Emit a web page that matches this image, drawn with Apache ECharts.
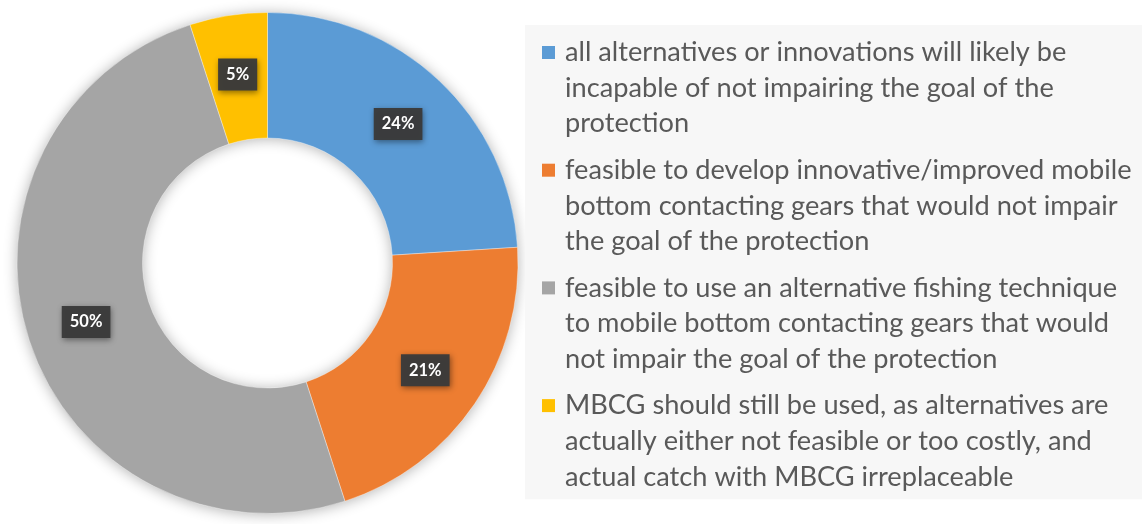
<!DOCTYPE html>
<html>
<head>
<meta charset="utf-8">
<title>Views on mobile bottom contacting gears</title>
<script src="https://cdn.jsdelivr.net/npm/echarts@6/dist/echarts.min.js"></script>
<style>
  html, body { margin: 0; padding: 0; background: #ffffff; }
  #chart { width: 1142px; height: 524px; }
</style>
</head>
<body>
<div id="chart"></div>
<script>
// Answer categories, wrapped the way they appear in the legend
const labelLines = [
  ['all alternatives or innovations will likely be', 'incapable of not impairing the goal of the', 'protection'],
  ['feasible to develop innovative/improved mobile', 'bottom contacting gears that would not impair', 'the goal of the protection'],
  ['feasible to use an alternative fishing technique', 'to mobile bottom contacting gears that would', 'not impair the goal of the protection'],
  ['MBCG should still be used, as alternatives are', 'actually either not feasible or too costly, and', 'actual catch with MBCG irreplaceable']
];
const categories = labelLines.map(function (l) { return l.join(' '); });
// Share of responses (%)
const shares = [24, 21, 50, 5];
const colors = ['#5B9BD5', '#ED7D31', '#A5A5A5', '#FFC000'];

const FONT = 'Lato, "Open Sans", sans-serif';

// Rich styles for the legend: a coloured square per entry, a spacer for wrapped lines
const legendRich = {
  t: { fontFamily: FONT, fontSize: 27.2, color: '#595959', lineHeight: 35.6 },
  g: { width: 10, height: 13 },
  s: { width: 23, height: 13 }
};
colors.forEach(function (c, i) {
  legendRich['m' + i] = { width: 13, height: 13, backgroundColor: c };
});

const chart = echarts.init(document.getElementById('chart'), null, { renderer: 'canvas' });

chart.setOption({
  animation: false,
  backgroundColor: '#ffffff',
  color: colors,
  legend: {
    orient: 'vertical',
    left: 525,
    top: 25,
    padding: [14, 80, 9, 12],
    backgroundColor: '#f7f7f7',
    icon: 'none',
    itemWidth: 0,
    itemHeight: 0,
    itemGap: 19.5,
    selectedMode: false,
    data: categories,
    textStyle: { rich: legendRich },
    formatter: function (name) {
      const i = categories.indexOf(name);
      return labelLines[i].map(function (line, k) {
        return (k === 0 ? '{m' + i + '|}{g|}' : '{s|}') + '{t|' + line + '}';
      }).join('\n');
    }
  },
  series: [
    {
      // soft drop shadow under the whole ring
      type: 'pie',
      silent: true,
      center: [267.5, 263],
      radius: [125, 250.5],
      label: { show: false },
      labelLine: { show: false },
      itemStyle: {
        color: '#dddddd',
        shadowBlur: 14,
        shadowColor: 'rgba(0,0,0,0.30)',
        shadowOffsetX: 0,
        shadowOffsetY: 1
      },
      data: [{ value: shares.reduce(function (a, b) { return a + b; }, 0), name: '' }],
      legendHoverLink: false
    },
    {
      type: 'pie',
      center: [267.5, 263],
      radius: [125, 250.5],
      startAngle: 90,
      clockwise: true,
      avoidLabelOverlap: false,
      itemStyle: { borderColor: 'rgba(255,255,255,0.6)', borderWidth: 0.6 },
      label: {
        show: true,
        position: 'inside',
        formatter: '{c}%',
        fontFamily: FONT,
        fontWeight: 'bold',
        fontSize: 16.5,
        color: '#ffffff',
        backgroundColor: 'rgba(58,58,58,0.96)',
        padding: [8, 8, 7, 8],
        shadowBlur: 6,
        shadowColor: 'rgba(0,0,0,0.45)',
        shadowOffsetX: 1,
        shadowOffsetY: 2
      },
      labelLine: { show: false },
      emphasis: { disabled: true },
      data: categories.map(function (name, i) {
        return { name: name, value: shares[i] };
      })
    }
  ]
});
</script>
</body>
</html>
